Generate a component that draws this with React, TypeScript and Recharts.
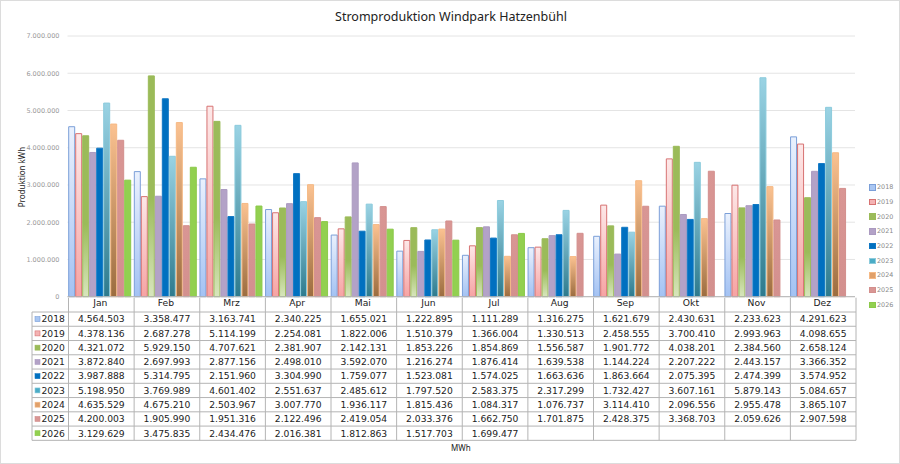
import { BarChart, Bar, XAxis, YAxis, CartesianGrid } from "recharts";

document.body.style.margin = "0";

const months = ["Jan", "Feb", "Mrz", "Apr", "Mai", "Jun", "Jul", "Aug", "Sep", "Okt", "Nov", "Dez"];
const years = ["2018", "2019", "2020", "2021", "2022", "2023", "2024", "2025", "2026"];
const yTicks = [0, 1000000, 2000000, 3000000, 4000000, 5000000, 6000000, 7000000];

const y2018 = [4564503, 3358477, 3163741, 2340225, 1655021, 1222895, 1111289, 1316275, 1621679, 2430631, 2233623, 4291623];
const y2019 = [4378136, 2687278, 5114199, 2254081, 1822006, 1510379, 1366004, 1330513, 2458555, 3700410, 2993963, 4098655];
const y2020 = [4321072, 5929150, 4707621, 2381907, 2142131, 1853226, 1854869, 1556587, 1901772, 4038201, 2384560, 2658124];
const y2021 = [3872840, 2697993, 2877156, 2498010, 3592070, 1216274, 1876414, 1639538, 1144224, 2207222, 2443157, 3366352];
const y2022 = [3987888, 5314795, 2151960, 3304990, 1759077, 1523081, 1574025, 1663636, 1863664, 2075395, 2474399, 3574952];
const y2023 = [5198950, 3769989, 4601402, 2551637, 2485612, 1797520, 2583375, 2317299, 1732427, 3607161, 5879143, 5084657];
const y2024 = [4635529, 4675210, 2503967, 3007770, 1936117, 1815436, 1084317, 1076737, 3114410, 2096556, 2955478, 3865107];
const y2025 = [4200003, 1905990, 1951316, 2122496, 2419054, 2033376, 1662750, 1701875, 2428375, 3368703, 2059626, 2907598];
const y2026 = [3129629, 3475835, 2434476, 2016381, 1812863, 1517703, 1699477, null, null, null, null, null];

const seriesValues = [y2018, y2019, y2020, y2021, y2022, y2023, y2024, y2025, y2026];

// gradient top, gradient bottom, outline
const seriesStyle = [
  { top: "#eaf1fd", bottom: "#a3c2f3", stroke: "#7b9fd8", icon: "#a9c6f2" },
  { top: "#fde8e8", bottom: "#f6a3a3", stroke: "#d77272", icon: "#f4b3b3" },
  { top: "#9bbb59", bottom: "#d8e6bd", stroke: "#9bbb59", icon: "#9bbb59" },
  { top: "#b3a2c7", bottom: "#b3a2c7", stroke: "#ab9ac0", icon: "#b3a2c7" },
  { top: "#0070c0", bottom: "#0070c0", stroke: "#1278c4", icon: "#0070c0" },
  { top: "#9ad3e4", bottom: "#2d7a8d", stroke: "#8ccbdc", icon: "#4bacc6" },
  { top: "#fbc291", bottom: "#9b6c3f", stroke: "#f5b985", icon: "#e0a06a" },
  { top: "#d99694", bottom: "#d3908e", stroke: "#d38f8d", icon: "#d99694" },
  { top: "#92d050", bottom: "#92d050", stroke: "#8cc94a", icon: "#92d050" },
];

const data = months.map((m, i) => {
  const row: Record<string, string | number | null> = { month: m };
  years.forEach((y, s) => {
    row[y] = seriesValues[s][i];
  });
  return row;
});

const fmt = (n: number | null) =>
  n == null ? "" : String(n).replace(/\B(?=(\d{3})+(?!\d))/g, ".");

const W = 900;
const H = 464;
const PLOT_LEFT = 67.5;
const PLOT_RIGHT = 855;
const PLOT_TOP = 36;
const PLOT_BOTTOM = 296.7;
const HEADER_H = 14.3;
const ROW_H = 14.26;
const TABLE_LEFT = 31;

const tableFont = "'DejaVu Sans', Verdana, sans-serif";
const labelFont = "'Noto Sans', 'Open Sans', sans-serif";
const lineColor = "#b4b4b4";

function DataTable() {
  const bandW = (PLOT_RIGHT - PLOT_LEFT) / months.length;
  const rowsTop = PLOT_BOTTOM + HEADER_H;
  const tableBottom = rowsTop + ROW_H * years.length;
  return (
    <svg width={W} height={H} style={{ position: "absolute", left: 0, top: 0, pointerEvents: "none" }}>
      {months.map((_, i) => (
        <line key={"v" + i} x1={PLOT_LEFT + i * bandW} x2={PLOT_LEFT + i * bandW} y1={PLOT_BOTTOM} y2={tableBottom} stroke={lineColor} />
      ))}
      <line x1={PLOT_RIGHT} x2={PLOT_RIGHT} y1={PLOT_BOTTOM} y2={tableBottom} stroke={lineColor} />
      <line x1={TABLE_LEFT} x2={TABLE_LEFT} y1={rowsTop} y2={tableBottom} stroke={lineColor} />
      {years.map((_, r) => (
        <line key={"h" + r} x1={TABLE_LEFT} x2={PLOT_RIGHT} y1={rowsTop + r * ROW_H} y2={rowsTop + r * ROW_H} stroke={lineColor} />
      ))}
      <line x1={TABLE_LEFT} x2={PLOT_RIGHT} y1={tableBottom} y2={tableBottom} stroke={lineColor} />
      {years.map((y, r) => {
        const cy = rowsTop + r * ROW_H + ROW_H / 2;
        return (
          <g key={y}>
            <rect x={34} y={cy - 2.5} width={5} height={5} fill={seriesStyle[r].icon} stroke={seriesStyle[r].stroke} strokeWidth={0.6} />
            <text x={40.5} y={cy + 3.3} fontSize={9.2} fontFamily={tableFont} fill="#222">{y}</text>
            {seriesValues[r].map((v, i) => (
              <text key={i} x={PLOT_LEFT + (i + 0.5) * bandW} y={cy + 3.3} fontSize={9.2} fontFamily={tableFont} fill="#222" textAnchor="middle">
                {fmt(v)}
              </text>
            ))}
          </g>
        );
      })}
    </svg>
  );
}

function SideLegend() {
  return (
    <div style={{ position: "absolute", left: 868, top: 179 }}>
      {years.map((y, i) => (
        <div key={y} style={{ height: 14.7, display: "flex", alignItems: "center", fontFamily: tableFont, fontSize: 6.4, color: "#8a8a8a" }}>
          <span style={{ display: "inline-block", width: 4.5, height: 4.5, background: seriesStyle[i].icon, border: "0.5px solid " + seriesStyle[i].stroke, marginRight: 1.5 }} />
          {y}
        </div>
      ))}
    </div>
  );
}

export default function App() {
  return (
    <div style={{ position: "relative", width: W, height: H, background: "#fff", boxSizing: "border-box", border: "1px solid #dcdcdc", overflow: "hidden" }}>
      <div style={{ position: "absolute", left: 0, width: W, top: 7, textAlign: "center", fontFamily: labelFont, fontSize: 12.5, color: "#222" }}>
        Stromproduktion Windpark Hatzenbühl
      </div>
      <div style={{ position: "absolute", left: 20, top: 176, transform: "translate(-50%, -50%) rotate(-90deg)", fontFamily: labelFont, fontSize: 8, color: "#222", whiteSpace: "nowrap" }}>
        Produktion kWh
      </div>
      <div style={{ position: "absolute", left: 450, top: 441, fontFamily: labelFont, fontSize: 8, color: "#222" }}>MWh</div>
      <div style={{ position: "absolute", left: -1, top: -1 }}>
        <BarChart
          width={W}
          height={H}
          data={data}
          margin={{ top: PLOT_TOP, right: W - PLOT_RIGHT, bottom: H - PLOT_BOTTOM - HEADER_H, left: 0 }}
          barCategoryGap={1.2}
          barGap={1}
        >
          <defs>
            {years.map((y, i) => (
              <linearGradient key={y} id={"g" + y} x1="0" y1="0" x2="0" y2="1">
                <stop offset="0%" stopColor={seriesStyle[i].top} />
                <stop offset={i === 2 ? "55%" : "0%"} stopColor={seriesStyle[i].top} />
                <stop offset="100%" stopColor={seriesStyle[i].bottom} />
              </linearGradient>
            ))}
          </defs>
          <CartesianGrid vertical={false} stroke="#e4e4e4" />
          <XAxis
            dataKey="month"
            height={HEADER_H}
            tickLine={false}
            tickSize={0}
            tickMargin={3}
            axisLine={{ stroke: lineColor }}
            tick={{ fontSize: 9.2, fontFamily: tableFont, fill: "#222" }}
            interval={0}
          />
          <YAxis
            width={PLOT_LEFT}
            domain={[0, 7000000]}
            ticks={yTicks}
            tickFormatter={(v: number) => fmt(v)}
            axisLine={false}
            tickLine={false}
            tick={{ fontSize: 6.5, fontFamily: tableFont, fill: "#9a9a9a" }}
          />
          {years.map((y, i) => (
            <Bar
              key={y}
              dataKey={y}
              fill={"url(#g" + y + ")"}
              stroke={seriesStyle[i].stroke}
              strokeWidth={1}
              isAnimationActive={false}
            />
          ))}
        </BarChart>
      </div>
      <DataTable />
      <SideLegend />
    </div>
  );
}
